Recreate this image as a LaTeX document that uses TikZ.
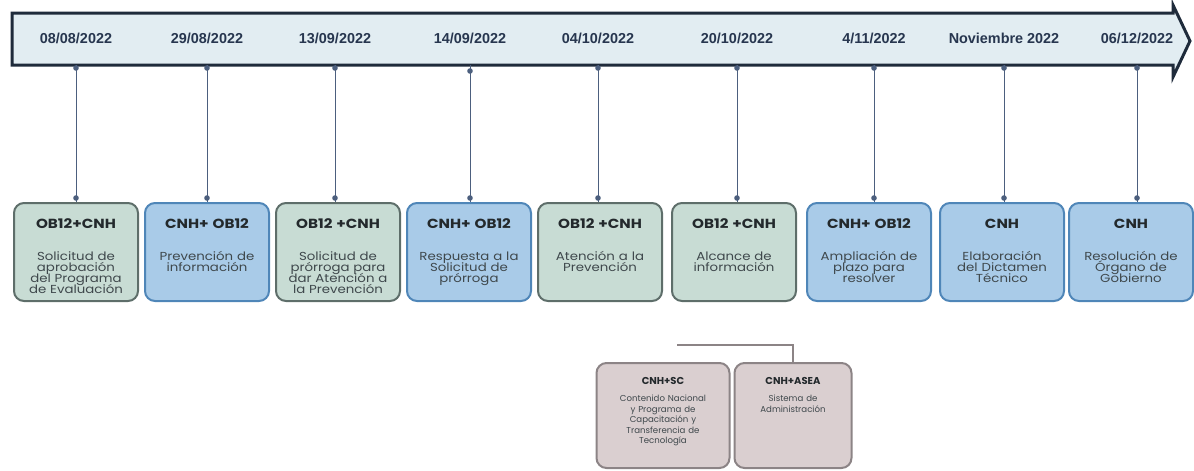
\documentclass[tikz,border=0pt]{standalone}
\usepackage{fontspec}
\usepackage{xcolor}
\usepackage{tikz}
\usetikzlibrary{arrows, positioning, calc}
\newfontfamily\datefont{Liberation Sans}
\newfontfamily\boxfont{Poppins}
\newfontfamily\stagefont[FakeStretch=1.15]{Poppins}

\definecolor{bandfill}{HTML}{E2EDF2}
\definecolor{bandline}{HTML}{1F2B3B}
\definecolor{datecol}{HTML}{27364F}
\definecolor{stemcol}{HTML}{4C5F7E}
\definecolor{greenfill}{HTML}{C8DCD4}
\definecolor{greenline}{HTML}{5E6E6A}
\definecolor{bluefill}{HTML}{A9CBE8}
\definecolor{blueline}{HTML}{4F86B8}
\definecolor{pinkfill}{HTML}{DACFD0}
\definecolor{pinkline}{HTML}{8C8486}
\definecolor{textcol}{HTML}{3F484C}
\definecolor{titlecol}{HTML}{23292C}

\newcommand{\tightlines}{\lineskiplimit=-5pt\relax}
\tikzstyle{date} = [font=\datefont\bfseries\fontsize{7.2pt}{8pt}\selectfont, text=datecol, inner sep=1pt]
\tikzstyle{stage} = [rounded corners=5pt, line width=1pt, text width=56pt, inner xsep=3pt, inner ysep=4pt, align=center, anchor=north, text height=8.75pt, text depth=32.25pt, font=\stagefont\fontsize{5.8pt}{5.5pt}\selectfont\tightlines, text=textcol]
\tikzstyle{greenstage} = [stage, fill=greenfill, draw=greenline]
\tikzstyle{bluestage} = [stage, fill=bluefill, draw=blueline]
\tikzstyle{substage} = [rounded corners=5pt, line width=1pt, fill=pinkfill, draw=pinkline, inner xsep=3pt, inner ysep=3pt, align=center, anchor=north, text height=7.75pt, text depth=38.75pt, font=\boxfont\fontsize{4.3pt}{5.25pt}\selectfont\tightlines, text=textcol]
\tikzstyle{stem} = [stemcol, line width=0.5pt]
\newcommand{\stagetitle}[1]{{\color{titlecol}\fontsize{6.6pt}{7pt}\selectfont\bfseries #1}\\[10.5pt]}
\newcommand{\subtitle}[1]{{\color{titlecol}\fontsize{5pt}{6pt}\selectfont\bfseries #1}\\[3.25pt]}

\begin{document}
\begin{tikzpicture}[x=0.5pt, y=-0.5pt]
\useasboundingbox (0,0) rectangle (1194,471);

% band with the arrow head
\draw [line width=1.5pt, bandline, fill=bandfill] (12,13) -- (1173,13) -- (1173,5) -- (1190,41) -- (1173,77) -- (1173,65) -- (12,65) -- cycle;

% dates
\node [date] (d1) at (76,38) {08/08/2022};
\node [date] (d2) at (207,38) {29/08/2022};
\node [date] (d3) at (335,38) {13/09/2022};
\node [date] (d4) at (470,38) {14/09/2022};
\node [date] (d5) at (598,38) {04/10/2022};
\node [date] (d6) at (737,38) {20/10/2022};
\node [date] (d7) at (874,38) {4/11/2022};
\node [date] (d8) at (1004,38) {Noviembre 2022};
\node [date] (d9) at (1137,38) {06/12/2022};

% stages
\node [greenstage] (b1) at (76,202) {\stagetitle{OB12+CNH}Solicitud de\\aprobación\\del Programa\\de Evaluación};
\node [bluestage] (b2) at (207,202) {\stagetitle{CNH+ OB12}Prevención de\\información};
\node [greenstage] (b3) at (338,202) {\stagetitle{OB12 +CNH}Solicitud de\\prórroga para\\dar Atención a\\la Prevención};
\node [bluestage] (b4) at (469,202) {\stagetitle{CNH+ OB12}Respuesta a la\\Solicitud de\\prórroga};
\node [greenstage] (b5) at (600,202) {\stagetitle{OB12 +CNH}Atención a la\\Prevención};
\node [greenstage] (b6) at (734,202) {\stagetitle{OB12 +CNH}Alcance de\\información};
\node [bluestage] (b7) at (869,202) {\stagetitle{CNH+ OB12}Ampliación de\\plazo para\\resolver};
\node [bluestage] (b8) at (1002,202) {\stagetitle{CNH}Elaboración\\del Dictamen\\Técnico};
\node [bluestage] (b9) at (1131,202) {\stagetitle{CNH}Resolución de\\Órgano de\\Gobierno};

% stems from the band to the stages
\draw [stem] (d1 |- 0,65) -- (d1 |- b1.north);
\draw [stem] (d2 |- 0,65) -- (d2 |- b2.north);
\draw [stem] (d3 |- 0,65) -- (d3 |- b3.north);
\draw [stem] (d4 |- 0,65) -- (d4 |- b4.north);
\draw [stem] (d5 |- 0,65) -- (d5 |- b5.north);
\draw [stem] (d6 |- 0,65) -- (d6 |- b6.north);
\draw [stem] (d7 |- 0,65) -- (d7 |- b7.north);
\draw [stem] (d8 |- 0,65) -- (d8 |- b8.north);
\draw [stem] (d9 |- 0,65) -- (d9 |- b9.north);

\fill [stemcol] (d1 |- 0,68) circle (1.4pt);
\fill [stemcol] (d2 |- 0,68) circle (1.4pt);
\fill [stemcol] (d3 |- 0,68) circle (1.4pt);
\fill [stemcol] (d4 |- 0,71) circle (1.4pt);
\fill [stemcol] (d5 |- 0,68) circle (1.4pt);
\fill [stemcol] (d6 |- 0,68) circle (1.4pt);
\fill [stemcol] (d7 |- 0,68) circle (1.4pt);
\fill [stemcol] (d8 |- 0,68) circle (1.4pt);
\fill [stemcol] (d9 |- 0,68) circle (1.4pt);

\fill [stemcol] (d1 |- 0,198) circle (1.4pt);
\fill [stemcol] (d2 |- 0,198) circle (1.4pt);
\fill [stemcol] (d3 |- 0,198) circle (1.4pt);
\fill [stemcol] (d4 |- 0,198) circle (1.4pt);
\fill [stemcol] (d5 |- 0,198) circle (1.4pt);
\fill [stemcol] (d6 |- 0,198) circle (1.4pt);
\fill [stemcol] (d7 |- 0,198) circle (1.4pt);
\fill [stemcol] (d8 |- 0,198) circle (1.4pt);
\fill [stemcol] (d9 |- 0,198) circle (1.4pt);

% sub stages
\node [substage, text width=60.5pt] (s1) at (663,362) {\subtitle{CNH+SC}Contenido Nacional\\y Programa de\\Capacitación y\\Transferencia de\\Tecnología};
\node [substage, text width=52.5pt] (s2) at (793,362) {\subtitle{CNH+ASEA}Sistema de\\Administración};

\coordinate (c0) at (677,345);
\draw [pinkline, line width=0.6pt] (c0) -- (c0 -| s2) -- (s2.north);

\end{tikzpicture}
\end{document}
